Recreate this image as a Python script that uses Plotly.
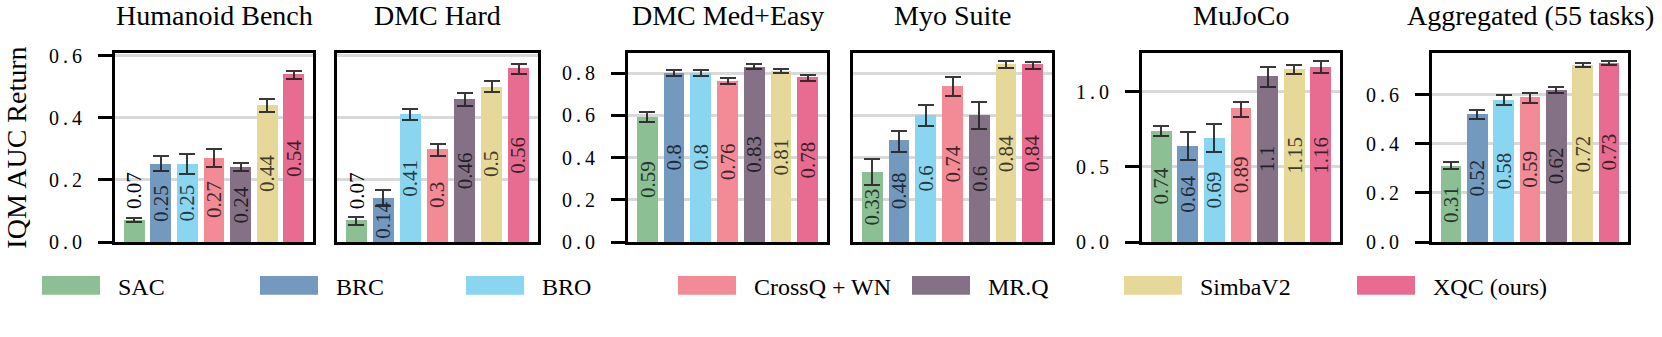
import plotly.graph_objects as go

# ---- data -------------------------------------------------------------
methods = ["SAC", "BRC", "BRO", "CrossQ + WN", "MR.Q", "SimbaV2", "XQC (ours)"]
colors = ["#8CC094", "#7399BE", "#8AD6F0", "#F28B96", "#847186", "#E6D898", "#E86C92"]

suites = ["Humanoid Bench", "DMC Hard", "DMC Med+Easy", "Myo Suite", "MuJoCo",
          "Aggregated (55 tasks)"]

humanoid = [0.07, 0.25, 0.25, 0.27, 0.24, 0.44, 0.54]
humanoid_up = [0.008, 0.027, 0.034, 0.030, 0.016, 0.021, 0.012]
humanoid_dn = [0.006, 0.022, 0.032, 0.028, 0.011, 0.020, 0.016]

dmc_hard = [0.07, 0.14, 0.41, 0.3, 0.46, 0.5, 0.56]
dmc_hard_up = [0.012, 0.026, 0.020, 0.017, 0.020, 0.018, 0.015]
dmc_hard_dn = [0.015, 0.024, 0.017, 0.023, 0.021, 0.018, 0.020]

dmc_med_easy = [0.59, 0.8, 0.8, 0.76, 0.83, 0.81, 0.78]
dmc_med_easy_up = [0.024, 0.015, 0.013, 0.015, 0.011, 0.011, 0.009]
dmc_med_easy_dn = [0.022, 0.013, 0.015, 0.013, 0.009, 0.008, 0.015]

myo = [0.33, 0.48, 0.6, 0.74, 0.6, 0.84, 0.84]
myo_up = [0.062, 0.044, 0.048, 0.041, 0.064, 0.016, 0.014]
myo_dn = [0.060, 0.053, 0.051, 0.048, 0.063, 0.017, 0.021]

mujoco = [0.74, 0.64, 0.69, 0.89, 1.1, 1.15, 1.16]
mujoco_up = [0.031, 0.092, 0.098, 0.044, 0.065, 0.031, 0.045]
mujoco_dn = [0.035, 0.091, 0.089, 0.058, 0.066, 0.032, 0.036]

aggregated = [0.31, 0.52, 0.58, 0.59, 0.62, 0.72, 0.73]
aggregated_up = [0.016, 0.020, 0.018, 0.017, 0.014, 0.009, 0.009]
aggregated_dn = [0.013, 0.017, 0.021, 0.021, 0.014, 0.006, 0.008]

ticks_small = [0.0, 0.2, 0.4, 0.6]
ticks_dmc = [0.0, 0.2, 0.4, 0.6, 0.8]
ticks_mujoco = [0.0, 0.5, 1.0]

y_title = "IQM AUC Return"

# ---- layout constants -------------------------------------------------
W, H = 1662, 337
TOP, BOT = 48, 248
FONT = "Liberation Serif"
panel_px = [(115, 313), (337, 538), (628, 827), (853, 1052), (1142, 1340), (1432, 1628)]
y_max = [0.608, 0.608, 0.894, 0.894, 1.256, 0.77]
show_y = [True, False, True, False, True, True]
panel_ticks = [ticks_small, ticks_small, ticks_dmc, ticks_dmc, ticks_mujoco, ticks_small]
legend_left = [42, 260, 466, 678, 912, 1124, 1357]

panels = [
    (humanoid, humanoid_up, humanoid_dn),
    (dmc_hard, dmc_hard_up, dmc_hard_dn),
    (dmc_med_easy, dmc_med_easy_up, dmc_med_easy_dn),
    (myo, myo_up, myo_dn),
    (mujoco, mujoco_up, mujoco_dn),
    (aggregated, aggregated_up, aggregated_dn),
]


def shade(hex_color, f):
    h = hex_color.lstrip("#")
    r, g, b = (int(h[i:i + 2], 16) for i in (0, 2, 4))
    return f"rgb({int(r * f)},{int(g * f)},{int(b * f)})"


def spaced(s):
    return "\u2009".join(s)


def text_len(s, size):
    return sum(0.25 if c == "." else 0.5 for c in s) * size


LABEL_SIZE = 21
fig = go.Figure()
annotations = []
shapes = []
layout = {}

for i, (vals, up, dn) in enumerate(panels):
    n = "" if i == 0 else str(i + 1)
    xa, ya = "x" + n, "y" + n
    x0, x1 = panel_px[i]
    xs = list(range(len(methods)))

    fig.add_trace(go.Bar(
        x=xs, y=vals, width=0.78,
        marker=dict(color=colors, line=dict(width=0)),
        error_y=dict(type="data", symmetric=False, array=up, arrayminus=dn,
                     color="rgba(35,35,35,0.9)", thickness=2, width=8),
        xaxis=xa, yaxis=ya, showlegend=False, hoverinfo="skip",
    ))

    layout["xaxis" + n] = dict(
        domain=[x0 / W, x1 / W], range=[-0.72, 6.72], anchor=ya,
        showticklabels=False, ticks="", showgrid=False, zeroline=False,
        showline=True, mirror=True, linecolor="black", linewidth=3,
        layer="above traces", fixedrange=True,
    )
    tv = panel_ticks[i]
    layout["yaxis" + n] = dict(
        domain=[1 - BOT / H, 1 - TOP / H], range=[0, y_max[i]], anchor=xa,
        tickvals=tv, ticktext=[spaced(f"{t:.1f}") for t in tv],
        showticklabels=show_y[i], ticks="outside" if show_y[i] else "",
        ticklen=14, tickwidth=3, tickcolor="black", ticklabelstandoff=12,
        tickfont=dict(family=FONT, size=20, color="black"),
        showgrid=True, gridcolor="rgba(0,0,0,0.15)", gridwidth=2.5,
        zeroline=False, showline=True, mirror=True, linecolor="black",
        linewidth=3, layer="above traces", fixedrange=True,
    )

    px_per_unit = (BOT - TOP) / y_max[i]
    for j, v in enumerate(vals):
        label = f"{v:g}"
        inside = v * px_per_unit > text_len(label, LABEL_SIZE) + 6
        if inside:
            annotations.append(dict(
                x=j, y=v / 2, xref=xa, yref=ya, text=label, showarrow=False,
                textangle=-90, xanchor="center", yanchor="middle",
                font=dict(family=FONT, size=LABEL_SIZE, color=shade(colors[j], 0.28)),
            ))
        else:
            annotations.append(dict(
                x=j, y=v, xref=xa, yref=ya, text=label, showarrow=False,
                textangle=-90, xanchor="center", yanchor="bottom", yshift=9,
                font=dict(family=FONT, size=LABEL_SIZE, color="black"),
            ))

    annotations.append(dict(
        x=(x0 + x1) / 2 / W, y=1 - 8 / H, xref="paper", yref="paper",
        text=suites[i], showarrow=False, xanchor="center", yanchor="middle",
        font=dict(family=FONT, size=28, color="black"),
    ))

annotations.append(dict(
    x=17 / W, y=1 - 148 / H, xref="paper", yref="paper", text=y_title,
    showarrow=False, textangle=-90, xanchor="center", yanchor="middle",
    font=dict(family=FONT, size=28, color="black"),
))

# legend row
for name, col, lx in zip(methods, colors, legend_left):
    shapes.append(dict(
        type="rect", xref="paper", yref="paper",
        x0=lx / W, x1=(lx + 58) / W, y0=1 - 304 / H, y1=1 - 284 / H,
        fillcolor=col, line=dict(width=0),
    ))
    annotations.append(dict(
        x=(lx + 58 + 16) / W, y=1 - 296 / H, xref="paper", yref="paper",
        text=name, showarrow=False, xanchor="left", yanchor="middle",
        font=dict(family=FONT, size=24, color="black"),
    ))

fig.update_layout(
    width=W, height=H, autosize=False,
    margin=dict(l=0, r=0, t=0, b=0),
    paper_bgcolor="white", plot_bgcolor="white",
    annotations=annotations, shapes=shapes, bargap=0,
    **layout,
)

fig.write_html("out.html")
